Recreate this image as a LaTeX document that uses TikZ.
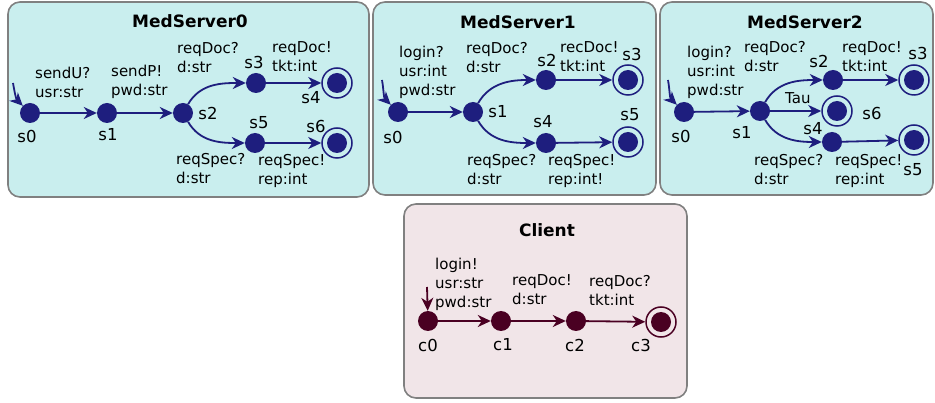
\documentclass[tikz,border=0pt]{standalone}
\usepackage{fontspec}
\setmainfont{DejaVu Sans}
\usetikzlibrary{arrows.meta}
\definecolor{navy}{HTML}{1E1E7E}
\definecolor{maroon}{HTML}{4A0022}
\definecolor{srvfill}{HTML}{C9EEEE}
\definecolor{clifill}{HTML}{F1E5E8}
\definecolor{boxline}{HTML}{808080}
\tikzset{
  panel/.style={draw=boxline,line width=1.6pt,rounded corners=12pt},
  title/.style={font=\fontsize{17}{19}\selectfont\bfseries},
  st/.style={circle,fill=#1,minimum size=20pt,inner sep=0pt},
  fin/.style={circle,draw=#1,line width=1.5pt,fill=none,minimum size=30pt,inner sep=0pt,
    path picture={\fill[#1] (path picture bounding box.center) circle (10pt);}},
  sl/.style={font=\fontsize{16.5}{19}\selectfont,inner sep=0pt},
  el/.style={font=\fontsize{15}{19}\selectfont,align=left,anchor=west,inner sep=0pt},
  tr/.style={draw=#1,line width=1.8pt,-{Stealth[length=13pt,width=12pt,inset=4pt]}},
}
\begin{document}
\begin{tikzpicture}[x=1pt,y=-1pt]
\useasboundingbox (0,0) rectangle (935,403);
% panels
\draw[panel,fill=srvfill] (8,2) rectangle (369,197);
\draw[panel,fill=srvfill] (373,2) rectangle (656,195);
\draw[panel,fill=srvfill] (660,2) rectangle (933,195);
\draw[panel,fill=clifill] (404,204) rectangle (687,398);
\node[title] (t0) at (190,21) {MedServer0};
\node[title] (t1) at (518,22) {MedServer1};
\node[title] (t2) at (805,22) {MedServer2};
\node[title] (tc) at (547,230) {Client};

% ---------- MedServer0
\node[st=navy] (a0) at (30,113) {};
\node[st=navy] (a1) at (107,113) {};
\node[st=navy] (a2) at (183,113) {};
\node[st=navy] (a3) at (256,83) {};
\node[fin=navy] (a4) at (337,83) {};
\node[st=navy] (a5) at (255,143) {};
\node[fin=navy] (a6) at (337,143) {};
\coordinate (ai) at (13,83);
\draw[tr=navy] (ai) to[out=-80,in=135] (a0);
\draw[tr=navy] (a0) -- (a1);
\draw[tr=navy] (a1) -- (a2);
\draw[tr=navy] (a2) to[out=60,in=180] (a3);
\draw[tr=navy] (a2) to[out=-60,in=180] (a5);
\draw[tr=navy] (a3) -- (a4);
\draw[tr=navy] (a5) -- (a6);
\node[sl] (la0) at (27,136) {s0};
\node[sl] (la1) at (108,135) {s1};
\node[sl] (la2) at (208,113) {s2};
\node[sl] (la3) at (254,62) {s3};
\node[sl] (la4) at (311,98) {s4};
\node[sl] (la5) at (259,123) {s5};
\node[sl] (la6) at (316,126) {s6};
\node[el] (ea01) at (35,82) {sendU?\\usr:str};
\node[el] (ea12) at (111,82) {sendP!\\pwd:str};
\node[el] (ea23) at (177,58) {reqDoc?\\d:str};
\node[el] (ea34) at (272,57) {reqDoc!\\tkt:int};
\node[el] (ea25) at (176,169) {reqSpec?\\d:str};
\node[el] (ea56) at (258,171) {reqSpec!\\rep:int};

% ---------- MedServer1
\node[st=navy] (b0) at (398,112) {};
\node[st=navy] (b1) at (473,112) {};
\node[st=navy] (b2) at (546,80) {};
\node[fin=navy] (b3) at (628,80) {};
\node[st=navy] (b4) at (546,143) {};
\node[fin=navy] (b5) at (628,142) {};
\coordinate (bi) at (382,80);
\draw[tr=navy] (bi) to[out=-80,in=135] (b0);
\draw[tr=navy] (b0) -- (b1);
\draw[tr=navy] (b1) to[out=60,in=180] (b2);
\draw[tr=navy] (b1) to[out=-60,in=180] (b4);
\draw[tr=navy] (b2) -- (b3);
\draw[tr=navy] (b4) -- (b5);
\node[sl] (lb0) at (393,137) {s0};
\node[sl] (lb1) at (498,112) {s1};
\node[sl] (lb2) at (547,60) {s2};
\node[sl] (lb3) at (632,54) {s3};
\node[sl] (lb4) at (543,122) {s4};
\node[sl] (lb5) at (630,115) {s5};
\node[el] (eb01) at (399,72) {login?\\usr:int\\pwd:str};
\node[el] (eb12) at (466,58) {reqDoc?\\d:str};
\node[el] (eb23) at (560,57) {recDoc!\\tkt:int};
\node[el] (eb14) at (467,170) {reqSpec?\\d:str};
\node[el] (eb45) at (548,171) {reqSpec!\\rep:int!};

% ---------- MedServer2
\node[st=navy] (c0) at (684,112) {};
\node[st=navy] (c1) at (760,111) {};
\node[st=navy] (c2) at (833,80) {};
\node[fin=navy] (c3) at (914,80) {};
\node[fin=navy] (c6) at (837,111) {};
\node[st=navy] (c4) at (832,142) {};
\node[fin=navy] (c5) at (914,140) {};
\coordinate (ci) at (668,80);
\draw[tr=navy] (ci) to[out=-80,in=135] (c0);
\draw[tr=navy] (c0) -- (c1);
\draw[tr=navy] (c1) to[out=60,in=180] (c2);
\draw[tr=navy] (c1) -- (c6);
\draw[tr=navy] (c1) to[out=-60,in=180] (c4);
\draw[tr=navy] (c2) -- (c3);
\draw[tr=navy] (c4) -- (c5);
\node[sl] (lc0) at (681,136) {s0};
\node[sl] (lc1) at (742,133) {s1};
\node[sl] (lc2) at (819,61) {s2};
\node[sl] (lc3) at (918,53) {s3};
\node[sl] (lc4) at (813,129) {s4};
\node[sl] (lc5) at (913,170) {s5};
\node[sl] (lc6) at (872,113) {s6};
\node[el] (ec01) at (687,72) {login?\\usr:int\\pwd:str};
\node[el] (ec12) at (744,57) {reqDoc?\\d:str};
\node[el] (ec23) at (842,57) {reqDoc!\\tkt:int};
\node[el] (ec16) at (785,98) {Tau};
\node[el] (ec14) at (754,170) {reqSpec?\\d:str};
\node[el] (ec45) at (835,171) {reqSpec!\\rep:int};

% ---------- Client
\node[st=maroon] (d0) at (428,321) {};
\node[st=maroon] (d1) at (501,321) {};
\node[st=maroon] (d2) at (576,321) {};
\node[fin=maroon] (d3) at (661,322) {};
\coordinate (di) at (427,287);
\draw[tr=maroon] (di) -- (d0);
\draw[tr=maroon] (d0) -- (d1);
\draw[tr=maroon] (d1) -- (d2);
\draw[tr=maroon] (d2) -- (d3);
\node[sl] (ld0) at (428,345) {c0};
\node[sl] (ld1) at (503,345) {c1};
\node[sl] (ld2) at (575,345) {c2};
\node[sl] (ld3) at (641,345) {c3};
\node[el] (ed01) at (435,284) {login!\\usr:str\\pwd:str};
\node[el] (ed12) at (512,290) {reqDoc!\\d:str};
\node[el] (ed23) at (589,290) {reqDoc?\\tkt:int};
\end{tikzpicture}
\end{document}
